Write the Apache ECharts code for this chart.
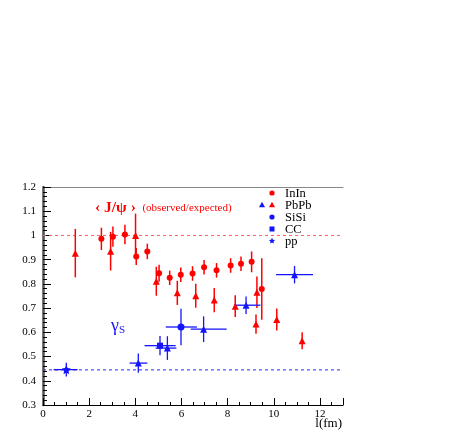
<!DOCTYPE html>
<html><head><meta charset="utf-8">
<script src="https://cdn.jsdelivr.net/npm/echarts@6/dist/echarts.min.js"></script>
<style>html,body{margin:0;padding:0;background:#fff}#c{width:463px;height:436px}</style>
</head><body><div id="c"></div>
<script>
// InIn (red circles): x, y, y-error
const inInX   = [2.53, 3.03, 3.55, 4.04, 4.52, 5.03, 5.49, 5.97, 6.48, 6.98, 7.52, 8.13, 8.58, 9.04, 9.48];
const inInY   = [0.986, 0.995, 1.004, 0.913, 0.934, 0.844, 0.825, 0.838, 0.843, 0.869, 0.856, 0.876, 0.883, 0.891, 0.779];
const inInErr = [0.046, 0.042, 0.040, 0.035, 0.032, 0.035, 0.030, 0.030, 0.030, 0.030, 0.030, 0.030, 0.030, 0.043, 0.127];
// PbPb J/psi (red triangles)
const pbX   = [1.40, 2.93, 4.01, 4.91, 5.82, 6.62, 7.42, 8.33, 9.23, 9.27, 10.13, 11.23];
const pbY   = [0.927, 0.935, 1.000, 0.811, 0.763, 0.751, 0.733, 0.708, 0.634, 0.765, 0.653, 0.565];
const pbErr = [0.100, 0.080, 0.090, 0.060, 0.050, 0.050, 0.050, 0.045, 0.040, 0.065, 0.045, 0.035];
// PbPb gamma_s (blue triangles)
const pbGX   = [4.13, 5.39, 6.96, 8.80, 10.90];
const pbGY   = [0.473, 0.535, 0.613, 0.712, 0.838];
const pbGErr = [0.040, 0.049, 0.053, 0.036, 0.036];
const pbGXlo = [3.75, 4.88, 6.40, 8.29, 10.10];
const pbGXhi = [4.52, 5.78, 7.96, 9.42, 11.70];
// SiSi, CC, pp (blue)
const siX = [5.98], siY = [0.622], siErr = [0.075], siXlo = [5.32], siXhi = [6.67];
const ccX = [5.07], ccY = [0.545], ccErr = [0.040], ccXlo = [4.40], ccXhi = [5.75];
const ppX = [1.01], ppY = [0.446], ppErr = [0.028], ppXlo = [0.46], ppXhi = [1.50];
// reference levels
const jpsiRef = 1.0;
const gammaRef = 0.445;
// axes
const xMin = 0, xMax = 13, xStep = 2;
const yMin = 0.3, yMax = 1.2, yStep = 0.1;
const legendNames = ['InIn', 'PbPb', 'SiSi', 'CC', 'pp'];

const RED = '#ff0000', BLUE = '#1414ff';
const SERIF = '"Liberation Serif","DejaVu Serif",serif';
const STAR = 'path://M0,-10L2.9,-4L9.5,-3.1L4.7,1.5L5.9,8.1L0,5L-5.9,8.1L-4.7,1.5L-9.5,-3.1L-2.9,-4Z';

function rows(xs, ys, es, xlo, xhi) {
  return xs.map((x, i) => [x, ys[i], ys[i] - es[i], ys[i] + es[i],
    xlo ? xlo[i] : x, xhi ? xhi[i] : x]);
}
function errSeries(data, color, width) {
  return {
    type: 'custom', data: data, silent: true, z: 3,
    renderItem: function (params, api) {
      const x = api.value(0), lo = api.value(2), hi = api.value(3);
      const xl = api.value(4), xh = api.value(5), y = api.value(1);
      const p1 = api.coord([x, lo]), p2 = api.coord([x, hi]);
      const q1 = api.coord([xl, y]), q2 = api.coord([xh, y]);
      const st = { stroke: color, lineWidth: width };
      const ch = [{ type: 'line', shape: { x1: p1[0], y1: p1[1], x2: p2[0], y2: p2[1] }, style: st }];
      if (xh > xl) ch.push({ type: 'line', shape: { x1: q1[0], y1: q1[1], x2: q2[0], y2: q2[1] }, style: st });
      return { type: 'group', children: ch };
    }
  };
}
function markSeries(data, color, symbol, size) {
  return { type: 'scatter', data: data.map(d => [d[0], d[1]]), symbol: symbol, symbolSize: size,
    itemStyle: { color: color, opacity: 1 }, z: 4, silent: true };
}

const dIn = rows(inInX, inInY, inInErr);
const dPb = rows(pbX, pbY, pbErr);
const dPbG = rows(pbGX, pbGY, pbGErr, pbGXlo, pbGXhi);
const dSi = rows(siX, siY, siErr, siXlo, siXhi);
const dCC = rows(ccX, ccY, ccErr, ccXlo, ccXhi);
const dPP = rows(ppX, ppY, ppErr, ppXlo, ppXhi);

const chart = echarts.init(document.getElementById('c'), null, { renderer: 'canvas' });

function legendGraphic() {
  const g = [];
  const x0 = 272, tx = 285, y0 = 193, dy = 12;
  const tri = (cx, cy, c) => ({ type: 'polygon', shape: { points: [[cx, cy - 3.2], [cx + 3, cy + 2.2], [cx - 3, cy + 2.2]] }, style: { fill: c } });
  g.push({ type: 'circle', shape: { cx: x0, cy: y0, r: 2.6 }, style: { fill: RED } });
  g.push(tri(262, y0 + dy, BLUE));
  g.push(tri(x0, y0 + dy, RED));
  g.push({ type: 'circle', shape: { cx: x0, cy: y0 + 2 * dy, r: 2.6 }, style: { fill: BLUE } });
  g.push({ type: 'rect', shape: { x: x0 - 2.5, y: y0 + 3 * dy - 2.5, width: 5, height: 5 }, style: { fill: BLUE } });
  const s = 0.32, cy = y0 + 4 * dy;
  const starPts = [[0,-10],[2.9,-4],[9.5,-3.1],[4.7,1.5],[5.9,8.1],[0,5],[-5.9,8.1],[-4.7,1.5],[-9.5,-3.1],[-2.9,-4]].map(p => [x0 + p[0] * s, cy + p[1] * s]);
  g.push({ type: 'polygon', shape: { points: starPts }, style: { fill: BLUE } });
  legendNames.forEach((n, i) => {
    g.push({ type: 'text', x: tx, y: y0 + i * dy + 1, style: { text: n, font: '12.5px ' + SERIF, fill: '#000', verticalAlign: 'middle', align: 'left' } });
  });
  return g;
}

const option = {
  animation: false,
  backgroundColor: '#fff',
  grid: { left: 43, top: 187, right: 120, bottom: 31, containLabel: false },
  xAxis: [{
    type: 'value', min: xMin, max: xMax, interval: xStep, position: 'bottom',
    axisLine: { show: true, lineStyle: { color: '#000', width: 1.2 } },
    axisTick: { show: true, inside: true, length: 7, lineStyle: { color: '#000' } },
    minorTick: { show: true, splitNumber: 4, length: 3, lineStyle: { color: '#000' } },
    axisLabel: { color: '#000', fontFamily: SERIF, fontSize: 11, margin: 4,
      formatter: v => (v > 12 ? '' : String(v)) },
    splitLine: { show: false }
  }, {
    type: 'value', min: xMin, max: xMax, position: 'top',
    axisLine: { show: true, lineStyle: { color: '#888', width: 1 } },
    axisTick: { show: false }, axisLabel: { show: false }, splitLine: { show: false }
  }],
  yAxis: [{
    type: 'value', min: yMin, max: yMax, interval: yStep,
    axisLine: { show: true, lineStyle: { color: '#000', width: 1.2 } },
    axisTick: { show: true, inside: true, length: 8, lineStyle: { color: '#000' } },
    minorTick: { show: true, splitNumber: 5, length: 4, lineStyle: { color: '#000' } },
    axisLabel: { color: '#000', fontFamily: SERIF, fontSize: 11, margin: 7,
      formatter: v => String(Math.round(v * 10) / 10) },
    splitLine: { show: false }
  }, {
    type: 'value', min: yMin, max: yMax, position: 'right',
    axisLine: { show: true, lineStyle: { color: '#555', width: 2.5 } },
    axisTick: { show: false }, axisLabel: { show: false }, splitLine: { show: false }
  }],
  series: [
    { type: 'line', data: [[xMin, jpsiRef], [xMax, jpsiRef]], symbol: 'none', silent: true, z: 1,
      lineStyle: { color: '#ff5a5a', width: 1, type: [3, 3] } },
    { type: 'line', data: [[xMin, gammaRef], [xMax, gammaRef]], symbol: 'none', silent: true, z: 1,
      lineStyle: { color: '#2a2aff', width: 1, type: [3, 3] } },
    errSeries(dPb, RED, 1.5),
    errSeries(dIn, RED, 1.5),
    errSeries(dPbG, BLUE, 1.3),
    errSeries(dSi, BLUE, 1.3),
    errSeries(dCC, BLUE, 1.3),
    errSeries(dPP, BLUE, 1.3),
    markSeries(dPb, RED, 'triangle', 7),
    markSeries(dIn, RED, 'circle', 6),
    markSeries(dPbG, BLUE, 'triangle', 7),
    markSeries(dSi, BLUE, 'circle', 7),
    markSeries(dCC, BLUE, 'rect', 6),
    markSeries(dPP, BLUE, STAR, 9)
  ],
  graphic: [
    { type: 'text', x: 95, y: 208, style: {
      text: '{a|‹ J/ψ ›}  {b|(observed/expected)}', verticalAlign: 'middle', align: 'left',
      rich: {
        a: { fontFamily: SERIF, fontSize: 15.5, fill: RED, fontWeight: 'bold', verticalAlign: 'middle' },
        b: { fontFamily: SERIF, fontSize: 11, fill: RED, verticalAlign: 'middle' }
      } } },
    { type: 'text', x: 111, y: 326, style: {
      text: '{g|γ}{s|S}', verticalAlign: 'middle', align: 'left',
      rich: {
        g: { fontFamily: SERIF, fontSize: 18, fill: BLUE },
        s: { fontFamily: SERIF, fontSize: 11, fill: BLUE, padding: [8, 0, 0, 0] }
      } } },
    { type: 'text', x: 342, y: 424, style: {
      text: 'l(fm)', font: '13px ' + SERIF, fill: '#000', align: 'right', verticalAlign: 'middle' } }
  ].concat(legendGraphic())
};
chart.setOption(option);
</script></body></html>
